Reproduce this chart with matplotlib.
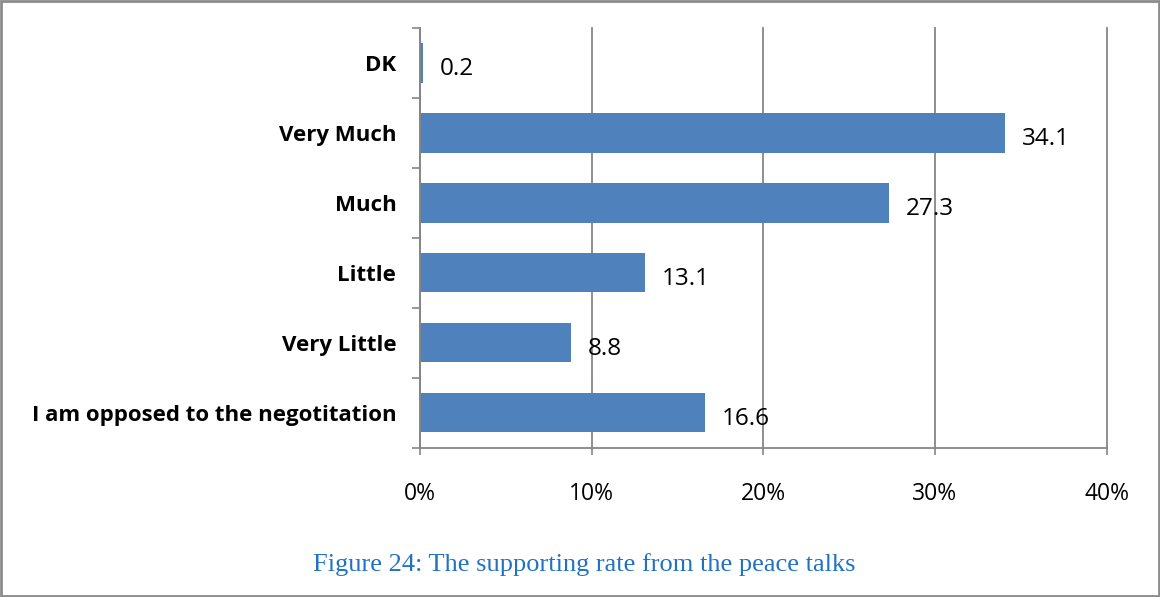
import numpy as np
import matplotlib
matplotlib.use('Agg')
import matplotlib.pyplot as plt
from matplotlib.ticker import FixedLocator, PercentFormatter

categories = ['I am opposed to the negotitation', 'Very Little', 'Little',
              'Much', 'Very Much', 'DK']
values = [16.6, 8.8, 13.1, 27.3, 34.1, 0.2]
xticks = [0, 10, 20, 30, 40]
caption = 'Figure 24: The supporting rate from the peace talks'

grey = '#868686'

fig = plt.figure(figsize=(11.6, 5.97), dpi=100)
ax = fig.add_axes([0.362, 0.250, 0.592, 0.703])

y = np.arange(len(categories))
bars = ax.barh(y, values, height=0.56, color='#4F81BD', zorder=3)

for b, v in zip(bars, values):
    ax.annotate(f'{v}', (b.get_width(), b.get_y() + b.get_height() / 2),
                xytext=(12, -2), textcoords='offset points', va='center_baseline',
                ha='left', fontsize=17.5, family='Open Sans', zorder=4)

ax.set_xlim(0, 40)
ax.set_ylim(-0.5, len(categories) - 0.5)
ax.set_xticks(xticks)
ax.xaxis.set_major_formatter(PercentFormatter(decimals=0))
ax.set_yticks(y)
ax.set_yticklabels(categories, fontweight='bold', fontsize=16, family='Open Sans')
ax.yaxis.set_minor_locator(FixedLocator(np.arange(-0.5, len(categories), 1)))
ax.tick_params(axis='y', which='major', length=0, pad=17)
ax.tick_params(axis='y', which='minor', length=6, width=1.2, color=grey, direction='out')
ax.tick_params(axis='x', length=5, width=1.2, color=grey, pad=20, labelsize=16.5)
for lbl in ax.get_xticklabels():
    lbl.set_family('Open Sans')

ax.grid(axis='x', color=grey, linewidth=1.3, zorder=0)
for line in ax.get_xgridlines():
    line.set_clip_on(False)
for s in ['top', 'right']:
    ax.spines[s].set_visible(False)
for s in ['left', 'bottom']:
    ax.spines[s].set_color(grey)
    ax.spines[s].set_linewidth(1.3)
    ax.spines[s].set_zorder(5)

fig.text(0.504, 0.055, caption, ha='center', va='center', color='#2272C3',
         fontsize=19, family='Liberation Serif')

fig.patches.append(plt.Rectangle((0.001, 0.002), 0.998, 0.996, transform=fig.transFigure,
                                 fill=False, edgecolor='#8C8C8C', linewidth=2))

fig.savefig('out.png', dpi=100)
